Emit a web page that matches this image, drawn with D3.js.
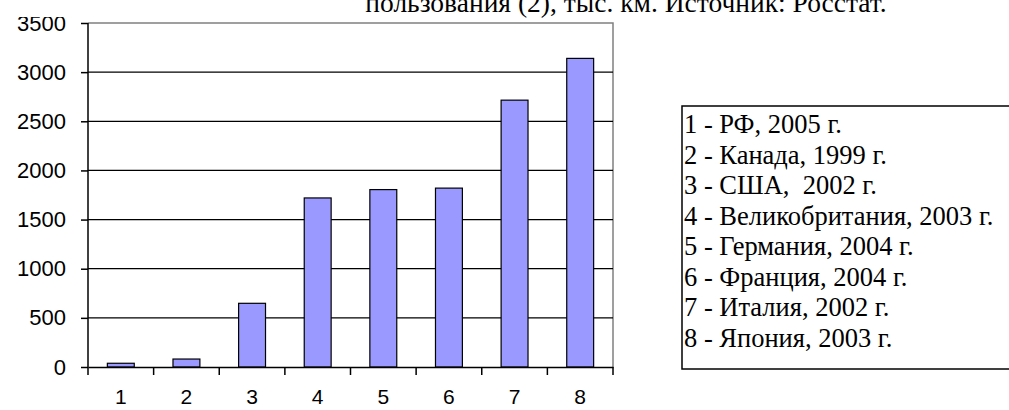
<!DOCTYPE html>
<html><head><meta charset="utf-8">
<script src="https://cdn.jsdelivr.net/npm/d3@7"></script>
<style>body{margin:0;background:#fff}svg{display:block}</style>
</head><body>
<svg id="c" width="1009" height="410"></svg>
<script>
const categories = ["1","2","3","4","5","6","7","8"];
const values = [38, 81, 648, 1720, 1805, 1820, 2715, 3140];
const yTicks = [0, 500, 1000, 1500, 2000, 2500, 3000, 3500];
const legendItems = ["1 - РФ, 2005 г.", "2 - Канада, 1999 г.", "3 - США,  2002 г.", "4 - Великобритания, 2003 г.", "5 - Германия, 2004 г.", "6 - Франция, 2004 г.", "7 - Италия, 2002 г.", "8 - Япония, 2003 г."];
const titleText = "пользования (2), тыс. км. Источник: Росстат.";

const svg = d3.select("#c");
const L = 88, R = 613, T = 23, B = 367;
const x = d3.scaleBand().domain(categories).range([L, R]).paddingInner(0.59).paddingOuter(0.295);
const xb = d3.scaleBand().domain(categories).range([L, R]);
const y = d3.scaleLinear().domain([0, 3500]).range([B, T]);

// title (top clipped by the picture edge)
svg.append("text").attr("x", 626).attr("y", 12).attr("text-anchor", "middle")
  .attr("font-family", "Liberation Serif").attr("font-size", 27.5).attr("fill", "#000").text(titleText);

// plot border (gray top & right)
svg.append("path").attr("d", `M${L},${T}H${R}V${B}`).attr("fill", "none").attr("stroke", "#808080").attr("stroke-width", 1.5);

// gridlines
svg.append("g").selectAll("line").data(yTicks.filter(d => d > 0 && d < 3500)).join("line")
  .attr("x1", L).attr("x2", R).attr("y1", d => y(d)).attr("y2", d => y(d))
  .attr("stroke", "#000").attr("stroke-width", 1.2);

// bars
svg.append("g").selectAll("rect").data(values).join("rect")
  .attr("x", (d, i) => x(categories[i])).attr("width", x.bandwidth())
  .attr("y", d => y(d)).attr("height", d => B - y(d))
  .attr("fill", "#9999ff").attr("stroke", "#000").attr("stroke-width", 1.2);

// y axis
svg.append("clipPath").attr("id", "yc").append("rect").attr("x", -100).attr("y", 17).attr("width", 200).attr("height", 400);
const ya = svg.append("g").attr("transform", `translate(${L},0)`).attr("clip-path", "url(#yc)")
  .call(d3.axisLeft(y).tickValues(yTicks).tickSize(7).tickPadding(15).tickFormat(d3.format("d")));
ya.selectAll("path,line").attr("stroke", "#000").attr("stroke-width", 1.5);
ya.selectAll("text").attr("font-family", "Liberation Sans").attr("font-size", 22).attr("fill", "#000");
ya.select(".domain").attr("d", `M0,${T}V${B}`);

// x axis
const xa = svg.append("g").attr("transform", `translate(0,${B})`)
  .call(d3.axisBottom(xb).tickSize(0).tickPadding(22));
xa.select(".domain").attr("stroke", "#000").attr("stroke-width", 1.5);
xa.selectAll("text").attr("font-family", "Liberation Sans").attr("font-size", 21).attr("fill", "#000");
svg.append("g").selectAll("line").data(d3.range(categories.length + 1)).join("line")
  .attr("x1", i => L + i * xb.step()).attr("x2", i => L + i * xb.step())
  .attr("y1", B).attr("y2", B + 8).attr("stroke", "#000").attr("stroke-width", 1.5);

// legend
svg.append("rect").attr("x", 682).attr("y", 106).attr("width", 340).attr("height", 263)
  .attr("fill", "#fff").attr("stroke", "#000").attr("stroke-width", 1.5);
svg.append("g").selectAll("text").data(legendItems).join("text")
  .attr("x", 684).attr("y", (d, i) => 133 + i * 30.5)
  .attr("font-family", "Liberation Serif").attr("font-size", 26.5).attr("fill", "#000")
  .attr("xml:space", "preserve").style("white-space", "pre").text(d => d);
</script>
</body></html>
